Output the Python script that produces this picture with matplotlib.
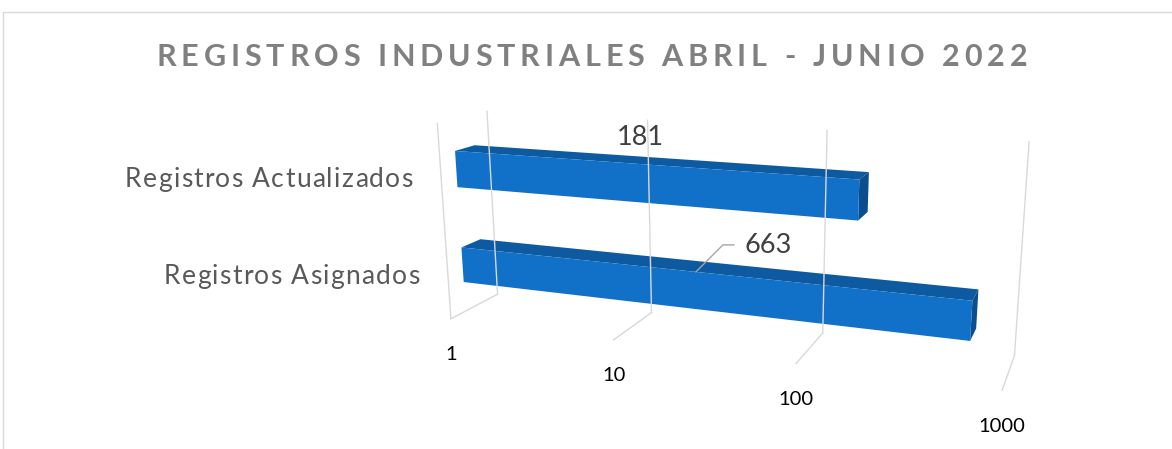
import numpy as np
import matplotlib.pyplot as plt
from matplotlib.patches import Polygon, Rectangle
from matplotlib.font_manager import FontProperties, findfont, get_font

categories = ["Registros Asignados", "Registros Actualizados"]
values = [663, 181]
tick_values = [1, 10, 100, 1000]
title = "REGISTROS INDUSTRIALES ABRIL - JUNIO 2022"

# perspective camera: (log10 value, depth, height, 1) -> pixels
camera = np.array([
    [129.4970, 81.49757, -33.50401, 450.9561],
    [2.731180, -3.904552, -200.8788, 318.7505],
    [-0.05408584, 0.07010129, -0.04549809, 1.0],
])


def project(u, d, h):
    v = camera @ np.array([u, d, h, 1.0])
    return v[0] / v[2], v[1] / v[2]


def spaced_text(ax, x, y, s, fp, spacing, ha='left', **kw):
    # draw text one char at a time, with extra letter spacing (px)
    font = get_font(findfont(fp))
    font.set_size(fp.get_size_in_points(), 100)
    adv = [font.load_char(ord(c)).linearHoriAdvance / 65536 for c in s]
    total = sum(adv) + spacing * (len(s) - 1)
    if ha == 'right':
        x -= total
    elif ha == 'center':
        x -= total / 2
    for c, a in zip(s, adv):
        ax.text(x, y, c, ha='left', va='center', fontproperties=fp, **kw)
        x += a + spacing


fig = plt.figure(figsize=(11.72, 4.49), dpi=100)
ax = fig.add_axes([0, 0, 1, 1])
ax.set_xlim(0, 1172)
ax.set_ylim(449, 0)
ax.axis('off')

ax.add_patch(Rectangle((3, 12), 1200, 460, fill=False, edgecolor='#d9d9d9', lw=1))

# walls / gridlines
grid_c = '#d9d9d9'
for t in tick_values:
    u = np.log10(t)
    p = [project(u, 1, 0), project(u, 1, 1)]
    ax.plot(*zip(*p), color=grid_c, lw=1)
    p = [project(u, 0, 0), project(u, 1, 0)]
    ax.plot(*zip(*p), color=grid_c, lw=1)
    x, y = project(u, 0, 0)
    ax.text(x, y + 36, str(t), ha='center', va='center', fontsize=14.5,
            family='Lato', color='black')
p = [project(0, 0, 0), project(0, 0, 1)]
ax.plot(*zip(*p), color=grid_c, lw=1)

# bars
d0, d1 = 0.3, 0.7
half = 0.0925
front_c, top_c, end_c = '#1170c8', '#0d5aa0', '#0a4e8e'
cat_fp = FontProperties(family='Lato', size=19)
for i, (cat, v) in enumerate(zip(categories, values)):
    L = np.log10(v)
    hc = (i + 0.5) / len(categories)
    h0, h1 = hc - half, hc + half
    front = [project(0, d0, h0), project(L, d0, h0), project(L, d0, h1), project(0, d0, h1)]
    top = [project(0, d0, h1), project(L, d0, h1), project(L, d1, h1), project(0, d1, h1)]
    end = [project(L, d0, h0), project(L, d1, h0), project(L, d1, h1), project(L, d0, h1)]
    ax.add_patch(Polygon(top, closed=True, facecolor=top_c, edgecolor='none'))
    ax.add_patch(Polygon(end, closed=True, facecolor=end_c, edgecolor='none'))
    ax.add_patch(Polygon(front, closed=True, facecolor=front_c, edgecolor='none'))

    x, y = project(0, 0, hc)
    spaced_text(ax, x - 28, y + 5, cat, cat_fp, 1.3, ha='right', color='#595959')

    # value labels
    x, y = project(L / 2, d0, h1)
    if i == 1:
        ax.text(x - 4, y - 27, str(v), ha='center', va='center', fontsize=19.5,
                family='Lato', color='#404040')
    else:
        ax.plot([x, x + 27, x + 38], [y, y - 27, y - 27], color='#a6a6a6', lw=1)
        ax.text(x + 49, y - 26, str(v), ha='left', va='center', fontsize=19.5,
                family='Lato', color='#404040')

# title with wide letter spacing
title_fp = FontProperties(family='Lato', weight='bold', size=22)
font = get_font(findfont(title_fp))
font.set_size(22, 100)
title_w = sum(font.load_char(ord(c)).linearHoriAdvance / 65536 for c in title)
title_sp = (871 - title_w) / (len(title) - 1)
spaced_text(ax, 592, 57, title, title_fp, title_sp, ha='center', color='#808080')

fig.savefig('out.png', dpi=100)
